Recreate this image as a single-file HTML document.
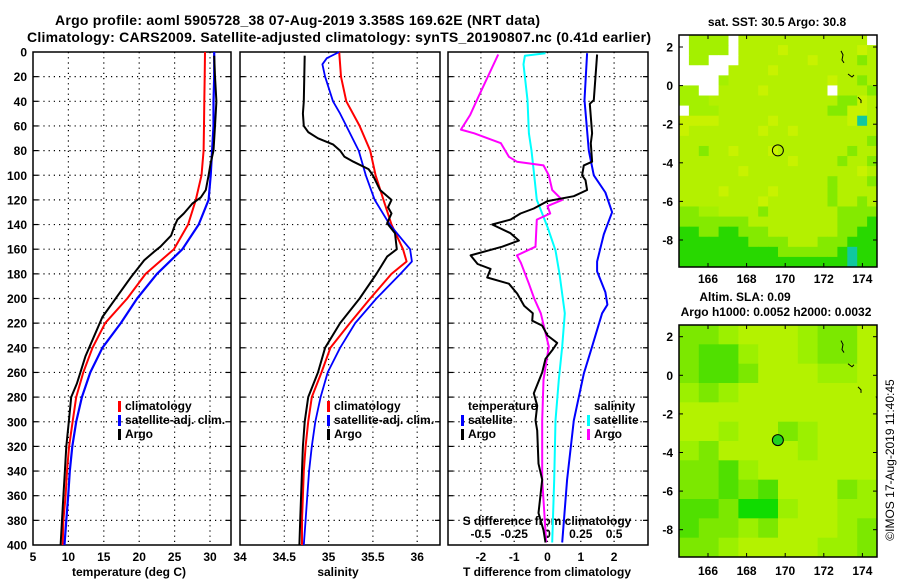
<!DOCTYPE html>
<html><head><meta charset="utf-8"><style>
body{margin:0;background:#fff}
svg{display:block;font-family:"Liberation Sans",Arial,sans-serif}
.b{font-weight:bold;font-size:12px}
.t{font-weight:bold;font-size:14px}
</style></head><body>
<svg id="c" width="900" height="580" viewBox="0 0 900 580">
<text class="t" x="55" y="25" textLength="485">Argo profile: aoml 5905728_38 07-Aug-2019 3.358S 169.62E (NRT data)</text>
<text class="t" x="27" y="42" textLength="624">Climatology: CARS2009. Satellite-adjusted climatology: synTS_20190807.nc (0.41d earlier)</text>
<text class="b" x="129" y="576" text-anchor="middle" font-size="13">temperature (deg C)</text>
<text class="b" x="338" y="576" text-anchor="middle">salinity</text>
<text class="b" x="547" y="576" text-anchor="middle">T difference from climatology</text>
<text class="b" x="547" y="525" text-anchor="middle">S difference from climatology</text>
<text class="b" x="777" y="26" text-anchor="middle">sat. SST: 30.5 Argo: 30.8</text>
<text class="b" x="745" y="301" text-anchor="middle">Altim. SLA: 0.09</text>
<text class="b" x="776" y="316" text-anchor="middle">Argo h1000: 0.0052 h2000: 0.0032</text>
<text x="894" y="460" font-size="12" text-anchor="middle" transform="rotate(-90 894 460)">©IMOS 17-Aug-2019 11:40:45</text>
</svg>
<script>
// ---- data ----
const depthTicks=[0,20,40,60,80,100,120,140,160,180,200,220,240,260,280,300,320,340,360,380,400];
const tempTicks=[5,10,15,20,25,30];
const salTicks=[34,34.5,35,35.5,36];
const salTickLabels=["34","34.5","35","35.5","36"];
const tdiffTicks=[-2,-1,0,1,2];
const sdiffTicks=[-0.5,-0.25,0,0.25,0.5];
const sdiffTickLabels=["-0.5","-0.25","0","0.25","0.5"];
const tClimDepth=[0,20,40,60,80,100,120,140,160,180,200,220,240,260,280,300,320,340,360,380,400];
const tClim=[29.3,29.25,29.2,29.15,29.1,28.8,28.0,26.9,24.9,20.9,18.3,15.2,13.4,12.1,11.1,10.6,10.1,9.8,9.6,9.3,9.2];
const tSat=[30.6,30.6,30.5,30.5,30.3,30.1,29.8,28.4,26.1,22.5,19.7,17.4,14.8,13.1,11.9,11.1,10.55,10.2,9.97,9.7,9.45];
const tArgoDepth=[3,20,40,60,80,90,100,112,118,123,131,136,141,149,158,162,169,183,199,215,231,247,269,280,300,320,340,360,380,400];
const tArgo=[30.6,30.7,30.9,30.7,30.5,30.1,29.8,29.4,28.7,27.5,26.3,25.4,25.0,24.5,23.0,22.1,20.7,18.8,16.8,14.8,13.6,12.4,11.2,10.4,10.05,9.7,9.5,9.3,9.1,8.9];
const sClimDepth=[0,20,40,60,80,100,120,140,160,170,180,200,220,240,260,280,300,320,340,360,380,400];
const sClim=[35.12,35.14,35.2,35.35,35.47,35.53,35.62,35.71,35.84,35.88,35.71,35.47,35.24,35.02,34.92,34.81,34.77,34.74,34.72,34.71,34.70,34.70];
const sSatDepth=[0,5,10,20,40,50,60,80,100,120,140,160,170,180,200,220,240,260,280,300,320,340,360,380,400];
const sSat=[35.12,34.98,34.93,34.96,35.05,35.13,35.2,35.34,35.42,35.52,35.69,35.92,35.94,35.81,35.54,35.30,35.13,34.99,34.91,34.85,34.81,34.78,34.76,34.74,34.72];
const sArgoDepth=[3,40,50,60,65,70,75,80,85,89,95,100,112,120,126,131,139,147,160,166,180,200,220,240,260,280,300,320,340,360,380,400];
const sArgo=[34.73,34.72,34.71,34.72,34.77,34.88,35.05,35.13,35.18,35.28,35.45,35.5,35.58,35.71,35.67,35.71,35.66,35.75,35.77,35.66,35.54,35.35,35.13,34.96,34.88,34.77,34.73,34.71,34.70,34.69,34.68,34.67];
const tdSatDepth=[1,39,80,100,114,130,148,170,178,195,205,212,239,261,280,299,347,398];
const tdSat=[1.19,1.11,1.24,1.39,1.74,1.94,1.69,1.49,1.49,1.74,1.80,1.64,1.34,1.09,0.94,0.79,0.59,0.44];
const tdArgoDepth=[2,39,42,66,74,89,92,100,104,112,117,121,127,131,136,140,147,153,158,165,172,176,183,188,196,206,212,218,222,230,236,242,249,260,277,287,299,307,334,347,374,388,398];
const tdArgo=[1.49,1.39,1.27,1.34,1.30,1.34,1.09,1.04,1.14,1.19,0.79,0,-0.41,-0.81,-1.11,-1.66,-1.11,-0.86,-1.36,-2.31,-2.10,-1.71,-1.81,-1.16,-0.91,-0.7,-0.44,-0.46,-0.16,0,0.29,0.14,-0.06,-0.16,-0.41,-0.31,-0.36,-0.31,-0.27,-0.16,-0.27,-0.12,-0.06];
const sdArgoDepth=[2,39,51,63,66,74,85,89,92,100,112,120,125,131,136,158,165,171,188,200,212,239,266,299,347,398];
const sdArgo=[-0.37,-0.53,-0.58,-0.65,-0.55,-0.35,-0.29,-0.23,-0.03,0.01,0.035,0.11,0,0.02,-0.08,-0.09,-0.23,-0.2,-0.14,-0.1,-0.05,0.01,-0.03,-0.04,-0.04,-0.01];
const sdSatDepth=[1,3,10,39,66,80,100,120,142,161,180,212,239,266,299,347,398];
const sdSat=[-0.015,-0.17,-0.18,-0.15,-0.14,-0.12,-0.1,-0.08,0,0.06,0.09,0.13,0.11,0.085,0.06,0.05,0.035];
const lonTicks=[166,168,170,172,174];
const latTicks=[2,0,-2,-4,-6,-8];
const argoLon=169.62, argoLat=-3.358;
const sstGrid=[
"wllllwgggggggggggggw","wllllwggggygggggggyg","wllwwwgggggggyggggGg","wwwwwggggygggggggggg",
"wwwwlggggggggggyggGg","llwwggggyggggggwgggG","lllgggggggggggggGGyg","wlllgggggggggggGGyyg",
"yyyygggggygggggggycg","ygggggggyggygggggggg","gggggggggggggggggggG","ggGggygggygggggggGgg",
"gggggggggggyggggGggG","ggggggygggggggggggyg","gggggggggggggggGgggG","ggggyggggygggggGgggg",
"ggggggggyggggggGggGg","GGllggggGgggggggGGGG","GGGGGGGgggggggggGGGd","ddGGddGGGgggggggGGdd",
"dddddddGGGGgggGGGddd","ddddddddddGGGGGGdcdd","dddddddddddddddddcdd"];
const slaGrid=["GGlggglGGg","GddlgglGGg","GddGgggllg","lGlggggggg","gggggggggg","gglggGlggg",
"lGgggglggg","GGdlgggggg","GGdGdgggGl","ddGDDlggll","dGGlGggglG","GGlggggllG"];
const sstColors={w:"#ffffff",l:"#a4f000",g:"#b4f000",y:"#c8f200",G:"#84ea00",d:"#28d800",c:"#10c8a0"};
const slaColors={g:"#b4f200",l:"#9cf000",G:"#7ce800",d:"#50e000",D:"#10dc00"};

// ---- drawing ----
const NS="http://www.w3.org/2000/svg", svg=document.getElementById('c');
function el(tag,attrs,parent){const e=document.createElementNS(NS,tag);for(const k in attrs)e.setAttribute(k,attrs[k]);(parent||svg).appendChild(e);return e;}
const yD=d=>52+d*1.2325;
const xT=v=>33+(v-5)*7.08;
const xS=v=>240+(v-34)*88.6;
const xTD=v=>547.5+v*33.3;
const xSD=v=>547.5+v*133.2;
const xLon=v=>708+(v-166)*19.3;
const yLat1=v=>47+(2-v)*19.3;
const yLat2=v=>336.7+(2-v)*19.3;

const panels=[{x0:33,x1:231,name:'temperature-panel',vt:tempTicks.slice(1).map(xT)},
 {x0:240,x1:440,name:'salinity-panel',vt:salTicks.slice(1).map(xS)},
 {x0:448,x1:648,name:'difference-panel',vt:tdiffTicks.map(xTD)}];
panels.forEach(p=>{
 const g=el('g',{});
 
 
 depthTicks.slice(1,-1).forEach(d=>{
  const l=el('line',{x1:p.x0,x2:p.x1,y1:yD(d),y2:yD(d),stroke:'#000','stroke-width':1.2,'stroke-dasharray':'1.2 4'},g);
  
  
  el('line',{x1:p.x0,x2:p.x0+5,y1:yD(d),y2:yD(d),stroke:'#000','stroke-width':1.2},g);
  el('line',{x1:p.x1-5,x2:p.x1,y1:yD(d),y2:yD(d),stroke:'#000','stroke-width':1.2},g);
 });
 p.vt.forEach(x=>{
  const l=el('line',{x1:x,x2:x,y1:52,y2:545,stroke:'#000','stroke-width':1.2,'stroke-dasharray':'1.2 4'},g);
  
  
 });
 const r=el('rect',{x:p.x0,y:52,width:p.x1-p.x0,height:493,fill:'none',stroke:'#000','stroke-width':1.5},g);
 
 
});
depthTicks.forEach(d=>{
 const t=el('text',{x:27,y:yD(d)+4.5,'text-anchor':'end',class:'b'});t.textContent=d;
 
 
});
tempTicks.forEach(v=>{const t=el('text',{x:xT(v),y:561,'text-anchor':'middle',class:'b'});t.textContent=v;
 
 });
salTicks.forEach((v,i)=>{const t=el('text',{x:xS(v),y:561,'text-anchor':'middle',class:'b'});t.textContent=salTickLabels[i];
 
 });
tdiffTicks.forEach(v=>{const t=el('text',{x:xTD(v),y:561,'text-anchor':'middle',class:'b'});t.textContent=v;
 
 });
sdiffTicks.forEach((v,i)=>{const t=el('text',{x:xSD(v),y:538,'text-anchor':'middle',class:'b'});t.textContent=sdiffTickLabels[i];
 
 });

function series(depths,vals,xf,color,name,w){
 const pts=depths.map((d,i)=>xf(vals[i]).toFixed(1)+','+yD(d).toFixed(1)).join(' ');
 const l=el('polyline',{points:pts,fill:'none',stroke:color,'stroke-width':w||2,'stroke-linejoin':'round'});
 
 
}
series(tClimDepth,tClim,xT,'#ff0000','temp-climatology-line');
series(tClimDepth,tSat,xT,'#0000ff','temp-satellite-line',2.2);
series(tArgoDepth,tArgo,xT,'#000000','temp-argo-line');
series(sClimDepth,sClim,xS,'#ff0000','sal-climatology-line');
series(sSatDepth,sSat,xS,'#0000ff','sal-satellite-line',1.8);
series(sArgoDepth,sArgo,xS,'#000000','sal-argo-line');
series(sdSatDepth,sdSat,xSD,'#00ffff','s-diff-satellite-line');
series(sdArgoDepth,sdArgo,xSD,'#ff00ff','s-diff-argo-line');
series(tdSatDepth,tdSat,xTD,'#0000ff','t-diff-satellite-line');
series(tdArgoDepth,tdArgo,xTD,'#000000','t-diff-argo-line');

function legend(x,y,color,label,name){
 if(color){const m=el('rect',{x:x-7,y:y-9,width:3,height:11,fill:color});
  
  }
 const t=el('text',{x:x,y:y,class:'b'});t.textContent=label;
 
 
}
legend(125,410,'#ff0000','climatology','legend-climatology');
legend(125,424,'#0000ff','satellite-adj. clim.','legend-satellite-adj');
legend(125,438,'#000000','Argo','legend-argo');
legend(334,410,'#ff0000','climatology','legend-climatology-sal');
legend(334,424,'#0000ff','satellite-adj. clim.','legend-satellite-adj-sal');
legend(334,438,'#000000','Argo','legend-argo-sal');
legend(468,410,null,'temperature','legend-temperature-heading');
legend(468,424,'#0000ff','satellite','legend-t-satellite');
legend(468,438,'#000000','Argo','legend-t-argo');
legend(594,410,null,'salinity','legend-salinity-heading');
legend(594,424,'#00ffff','satellite','legend-s-satellite');
legend(594,438,'#ff00ff','Argo','legend-s-argo');

function map(y0,grid,colors,yLat,labelY,name,dotFill){
 const g=el('g',{});
 
 
 const x0=679,w=198,h=232,rows=grid.length,cols=grid[0].length;
 grid.forEach((row,ri)=>{[...row].forEach((ch,ci)=>{
  const c=el('rect',{x:(x0+ci*w/cols).toFixed(2),y:(y0+ri*h/rows).toFixed(2),width:(w/cols+0.5).toFixed(2),height:(h/rows+0.5).toFixed(2),fill:colors[ch]},g);
  
  
 });});
 el('rect',{x:x0,y:y0,width:w,height:h,fill:'none',stroke:'#000','stroke-width':1.5},g);
 lonTicks.forEach(v=>{const x=xLon(v);
  el('line',{x1:x,x2:x,y1:y0,y2:y0+4,stroke:'#000'},g);el('line',{x1:x,x2:x,y1:y0+h-4,y2:y0+h,stroke:'#000'},g);
  const t=el('text',{x:x,y:labelY,'text-anchor':'middle',class:'b'},g);t.textContent=v;
  
  });
 latTicks.forEach(v=>{const y=yLat(v);
  el('line',{x1:x0,x2:x0+4,y1:y,y2:y,stroke:'#000'},g);el('line',{x1:x0+w-4,x2:x0+w,y1:y,y2:y,stroke:'#000'},g);
  const t=el('text',{x:673,y:y+4.5,'text-anchor':'end',class:'b'},g);t.textContent=v;
  
  });
 el('path',{d:`M841 ${yLat(1.8)} l2 4 l-1 5 l2 3 M848 ${yLat(0.6)} l4 3 l2 -2 M858 ${yLat(-0.6)} l3 3 l0 3 M876 ${yLat(-1.1)} l1 2`,fill:'none',stroke:'#000','stroke-width':1},g);
 const dot=el('circle',{cx:xLon(argoLon),cy:yLat(argoLat),r:5.5,fill:dotFill,stroke:'#000','stroke-width':1},g);
 
 
}
map(35,sstGrid,sstColors,yLat1,283,'sst-map','none');
map(325,slaGrid,slaColors,yLat2,575,'sla-map','#20d020');
</script>
</body></html>
